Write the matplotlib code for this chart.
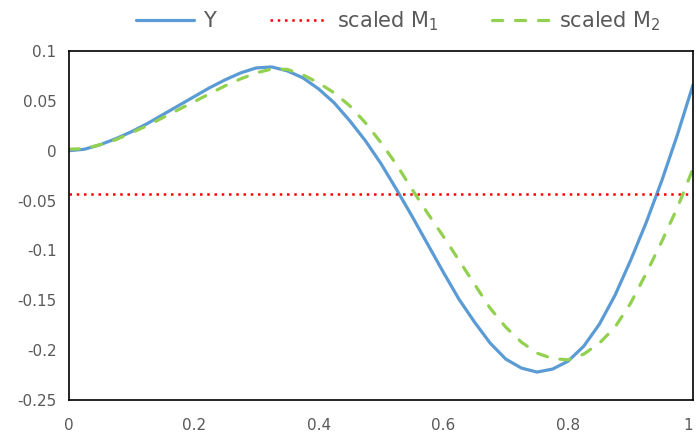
import matplotlib
matplotlib.use("Agg")
import matplotlib.pyplot as plt

plt.rcParams['font.family'] = ['DejaVu Sans']
plt.rcParams['mathtext.default'] = 'regular'

x = [0.0, 0.025, 0.05, 0.075, 0.1, 0.125, 0.15, 0.175, 0.2, 0.225, 0.25, 0.275,
     0.3, 0.325, 0.35, 0.375, 0.4, 0.425, 0.45, 0.475, 0.5, 0.525, 0.55, 0.575,
     0.6, 0.625, 0.65, 0.675, 0.7, 0.725, 0.75, 0.775, 0.8, 0.825, 0.85, 0.875,
     0.9, 0.925, 0.95, 0.975, 1.0]

y_vals = [0.0, 0.0015, 0.006, 0.012, 0.019, 0.027, 0.036, 0.045, 0.054, 0.063, 0.071, 0.078,
          0.083, 0.084, 0.080, 0.073, 0.062, 0.048, 0.030, 0.010, -0.013, -0.039, -0.066, -0.094,
          -0.122, -0.149, -0.172, -0.193, -0.209, -0.218, -0.222, -0.219, -0.211, -0.196, -0.174, -0.145,
          -0.110, -0.072, -0.030, 0.016, 0.066]

m2_vals = [0.0015, 0.002, 0.006, 0.011, 0.018, 0.025, 0.033, 0.041, 0.049, 0.057, 0.065, 0.072,
           0.078, 0.082, 0.0815, 0.076, 0.068, 0.058, 0.045, 0.028, 0.008, -0.014, -0.039, -0.063,
           -0.086, -0.110, -0.134, -0.158, -0.177, -0.192, -0.203, -0.2085, -0.2097, -0.204, -0.193, -0.177,
           -0.153, -0.123, -0.091, -0.057, -0.018]

m1_value = -0.043

x_ticks = [0, 0.2, 0.4, 0.6, 0.8, 1]
x_tick_labels = ["0", "0.2", "0.4", "0.6", "0.8", "1"]
y_ticks = [-0.25, -0.2, -0.15, -0.1, -0.05, 0, 0.05, 0.1]
y_tick_labels = ["-0.25", "-0.2", "-0.15", "-0.1", "-0.05", "0", "0.05", "0.1"]

fig = plt.figure(figsize=(6.96, 4.38), dpi=100)
ax = fig.add_axes([0.0991, 0.0868, 0.8966, 0.7968])

l1, = ax.plot(x, y_vals, color='#5B9BD5', lw=2.3, label='Y',
              solid_capstyle='round', solid_joinstyle='round')
l2, = ax.plot([x[0], x[-1]], [m1_value, m1_value], color='#FF0000', lw=1.8,
              linestyle=(0, (1, 1.9)), label='scaled M$_1$')
l3, = ax.plot(x, m2_vals, color='#92D050', lw=2.3, linestyle=(0, (3.2, 4.0)),
              label='scaled M$_2$', dash_capstyle='round', dash_joinstyle='round')

ax.set_xlim(0, 1)
ax.set_ylim(-0.25, 0.1)
ax.set_xticks(x_ticks)
ax.set_xticklabels(x_tick_labels)
ax.set_yticks(y_ticks)
ax.set_yticklabels(y_tick_labels)
ax.tick_params(axis='both', length=0, labelsize=11, labelcolor='#595959')
ax.tick_params(axis='y', pad=9)
ax.tick_params(axis='x', pad=13)
ax.get_xticklabels()[-1].set_horizontalalignment('right')
for s in ax.spines.values():
    s.set_color('black')
    s.set_linewidth(1.2)

fig.legend(handles=[l1, l2, l3], loc='center', bbox_to_anchor=(0.5726, 0.952), ncol=3,
           frameon=False, fontsize=15, handlelength=2.8, handletextpad=0.4,
           columnspacing=2.6, labelcolor='#595959')

fig.savefig('out.png', dpi=100)
